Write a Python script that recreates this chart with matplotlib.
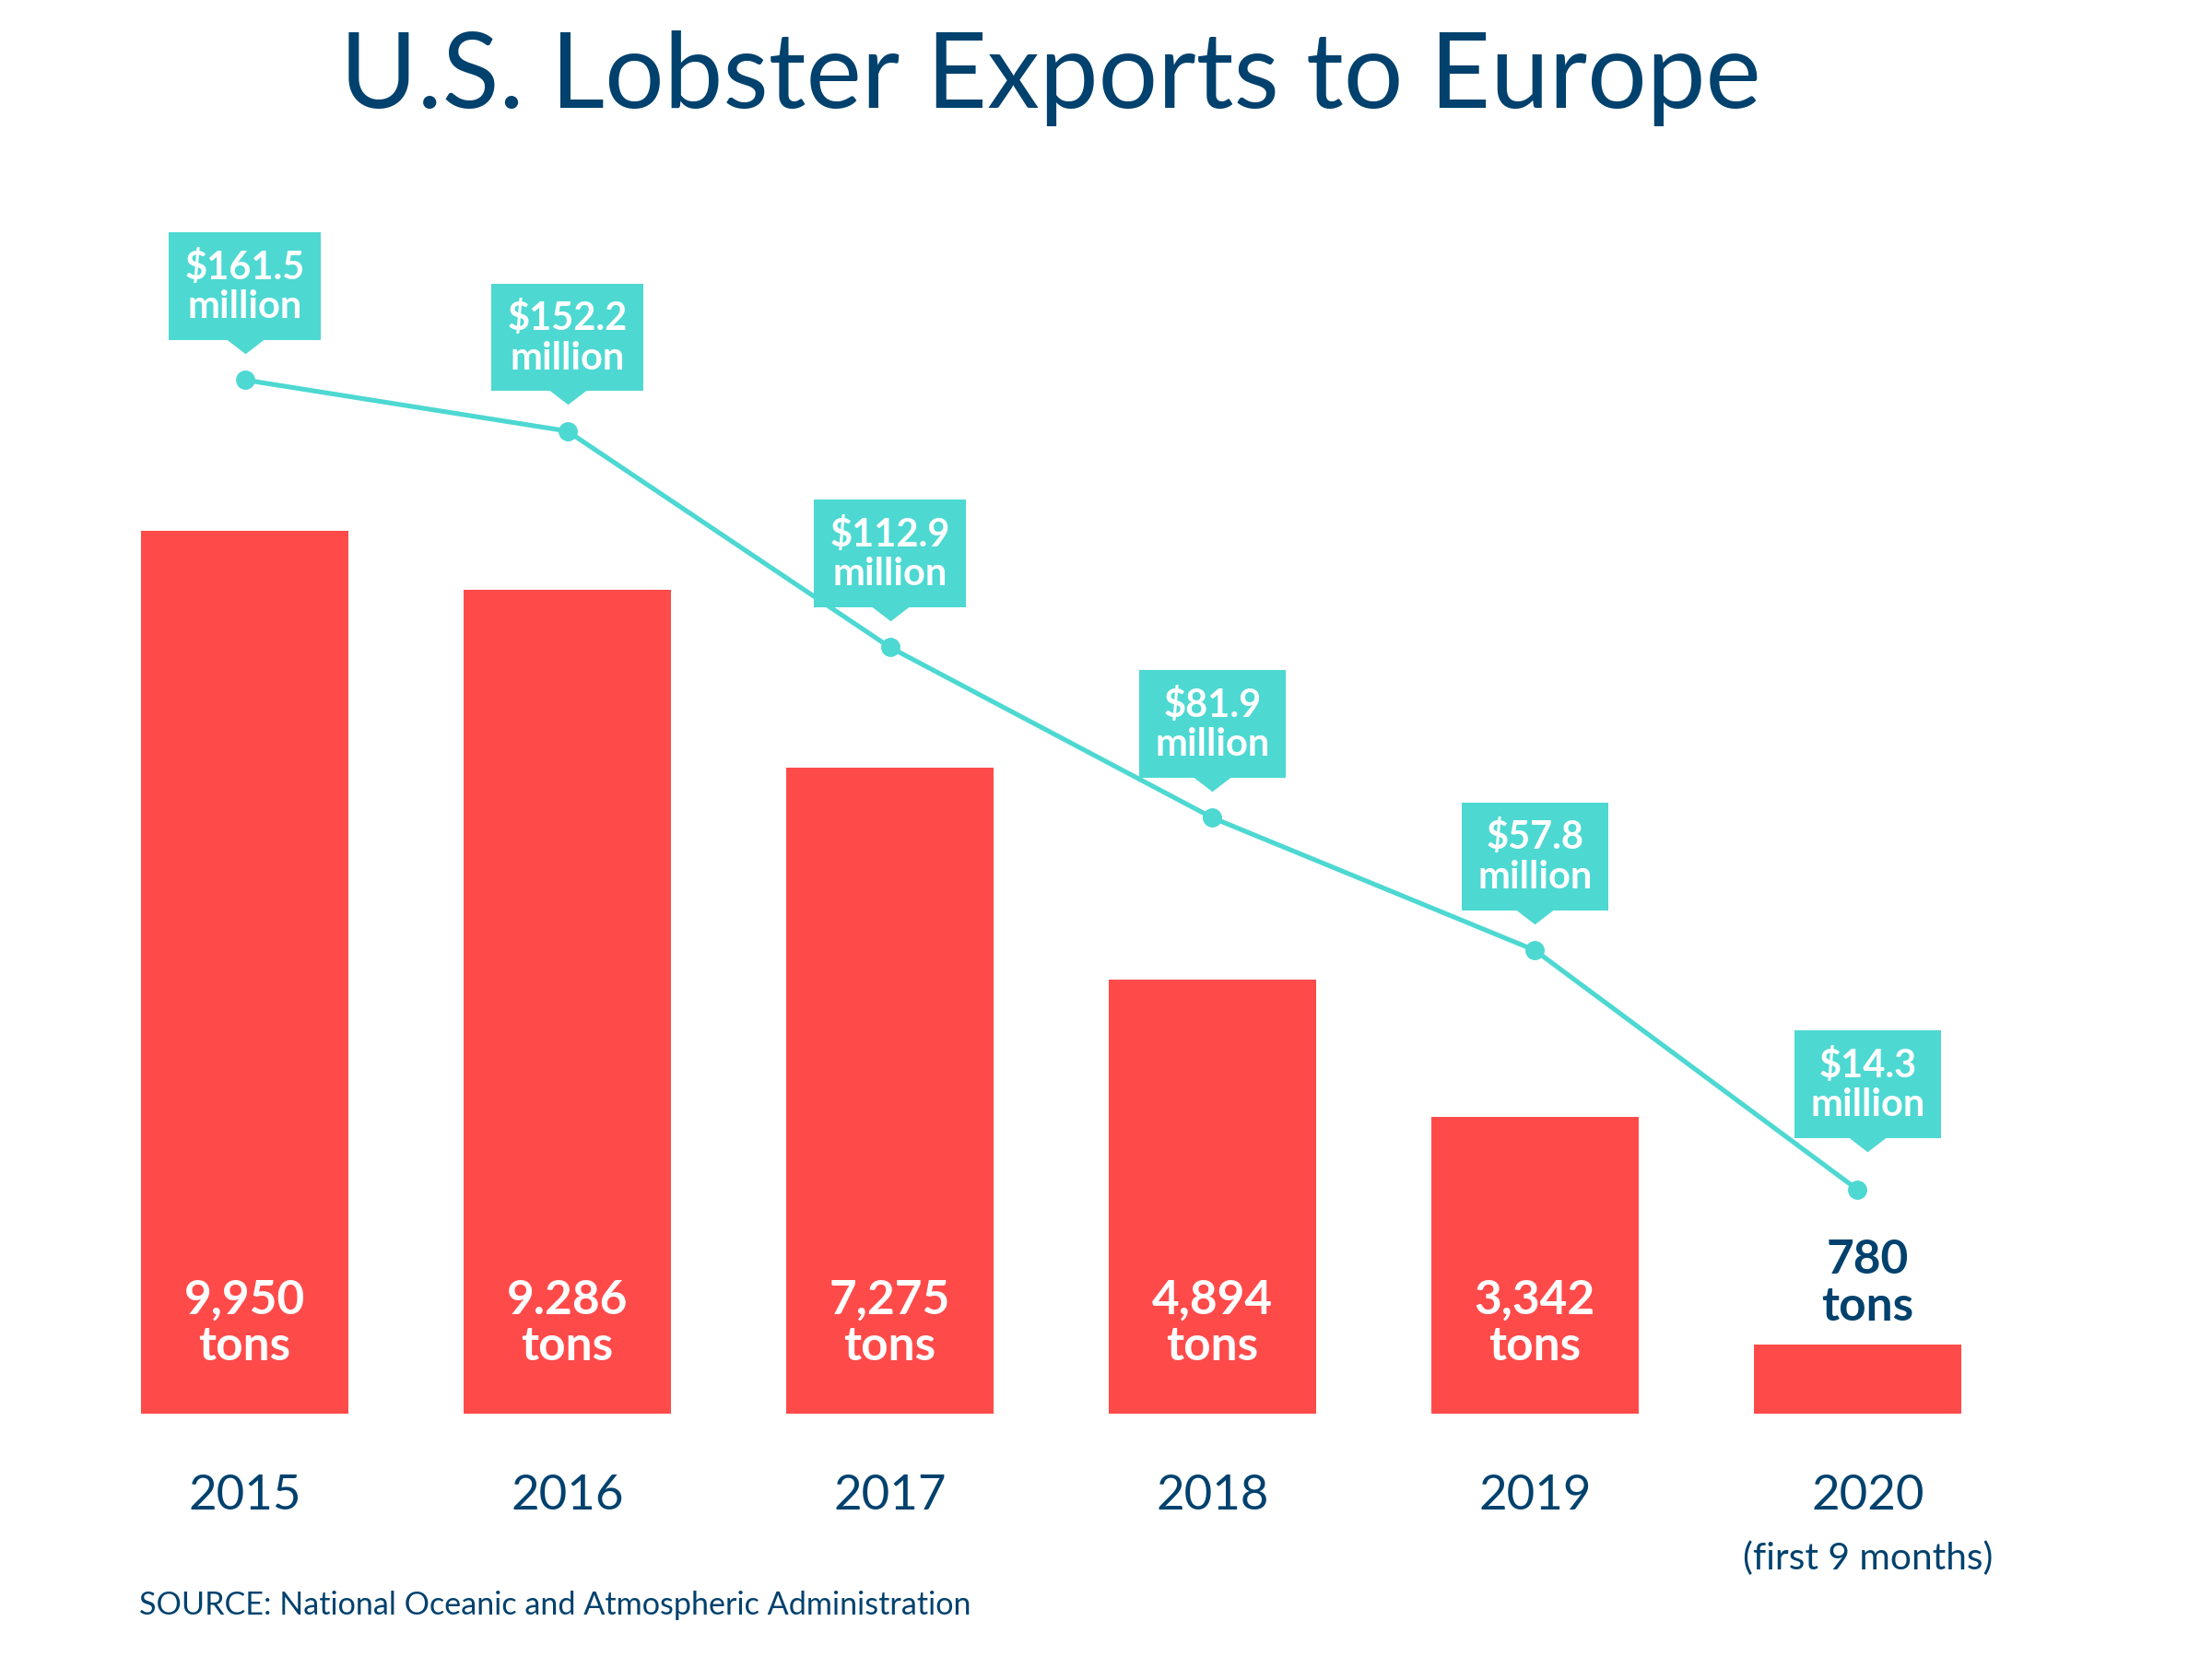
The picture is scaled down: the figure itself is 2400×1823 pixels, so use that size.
import matplotlib
matplotlib.use('Agg')
import matplotlib.pyplot as plt
from matplotlib.path import Path
from matplotlib.transforms import offset_copy, blended_transform_factory

plt.rcParams['font.family'] = ['Lato', 'DejaVu Sans']

# data
years = ['2015', '2016', '2017', '2018', '2019', '2020']
tons = [9950, 9286, 7275, 4894, 3342, 780]
ton_labels = ['9,950', '9.286', '7,275', '4,894', '3,342', '780']
value_musd = [161.5, 152.2, 112.9, 81.9, 57.8, 14.3]
value_labels = ['\\$161.5', '\\$152.2', '\\$112.9', '\\$81.9', '\\$57.8', '\\$14.3']

RED = '#FF4A4A'
TEAL = '#4DD8D2'
NAVY = '#01416D'

fig = plt.figure(figsize=(24, 18.24), dpi=100)
ax = fig.add_axes([0.0378, 0.1586, 0.8748, 0.7156])
x = list(range(len(years)))
last = len(years) - 1
# the 2020 texts sit a little right of the bar centre in the original
dx = [0, 0, 0, 0, 0, 8]

# bars: tons
ax.bar(x, tons, width=0.643, color=RED)
ax.set_xlim(-0.5, 5.5)
ax.set_ylim(0, 13561)
ax.axis('off')

# line: value in million USD
ax2 = ax.twinx()
ax2.set_ylim(-26.4, 192.3)
ax2.axis('off')
ax2.plot(x, value_musd, color=TEAL, lw=3.7, marker='o', ms=14, zorder=3)

# bar labels (va='baseline' -> last line baseline)
for i, (t, lab) in enumerate(zip(tons, ton_labels)):
    if i < last:
        ax.annotate(lab + '\ntons', xy=(i, 0), xytext=(0, 42), textcoords='offset points',
                    ha='center', va='baseline', color='white', fontsize=37,
                    fontweight='bold', linespacing=1.1)
    else:
        ax.annotate(lab + '\ntons', xy=(i, t), xytext=(dx[i], 19), textcoords='offset points',
                    ha='center', va='baseline', color=NAVY, fontsize=37,
                    fontweight='bold', linespacing=1.1)

# callouts with a small pointer below the box
pointer = Path([(-1.3, 0.6), (1.3, 0.6), (1.3, 0), (0, -1), (-1.3, 0), (-1.3, 0.6)],
               [Path.MOVETO, Path.LINETO, Path.LINETO, Path.LINETO, Path.LINETO, Path.CLOSEPOLY])
for i, (v, lab) in enumerate(zip(value_musd, value_labels)):
    lift = 49 if i < last else 58
    ax2.annotate(lab + '\nmillion', xy=(i, v), xytext=(dx[i], lift), textcoords='offset points',
                 ha='center', va='baseline', color='white', fontsize=30, fontweight='bold',
                 linespacing=1.15,
                 bbox=dict(boxstyle='square,pad=0.42', fc=TEAL, ec='none'))
    tr = offset_copy(ax2.transData, fig=fig, x=dx[i], y=lift - 17, units='points')
    ax2.plot([i], [v], marker=pointer, ms=29.5, color=TEAL, mec='none',
             transform=tr, clip_on=False)

# year labels
tb = blended_transform_factory(ax.transData, fig.transFigure)
for i, y in enumerate(years):
    t = ax.text(i, 0.102, y, transform=tb, ha='center', va='baseline', fontsize=38, color=NAVY)
    if dx[i]:
        t.set_transform(offset_copy(tb, fig=fig, x=dx[i], y=0, units='points'))
ax.text(last, 0.0663, '(first 9 months)',
        transform=offset_copy(tb, fig=fig, x=dx[last], y=0, units='points'),
        ha='center', va='baseline', fontsize=29.3, color=NAVY)

fig.text(0.475, 0.9359, 'U.S. Lobster Exports to Europe', ha='center', va='baseline',
         fontsize=82, color=NAVY)
fig.text(0.063, 0.0395, 'SOURCE: National Oceanic and Atmospheric Administration',
         ha='left', va='baseline', fontsize=24.6, color=NAVY)

fig.savefig('out.png', dpi=100, facecolor='white')
